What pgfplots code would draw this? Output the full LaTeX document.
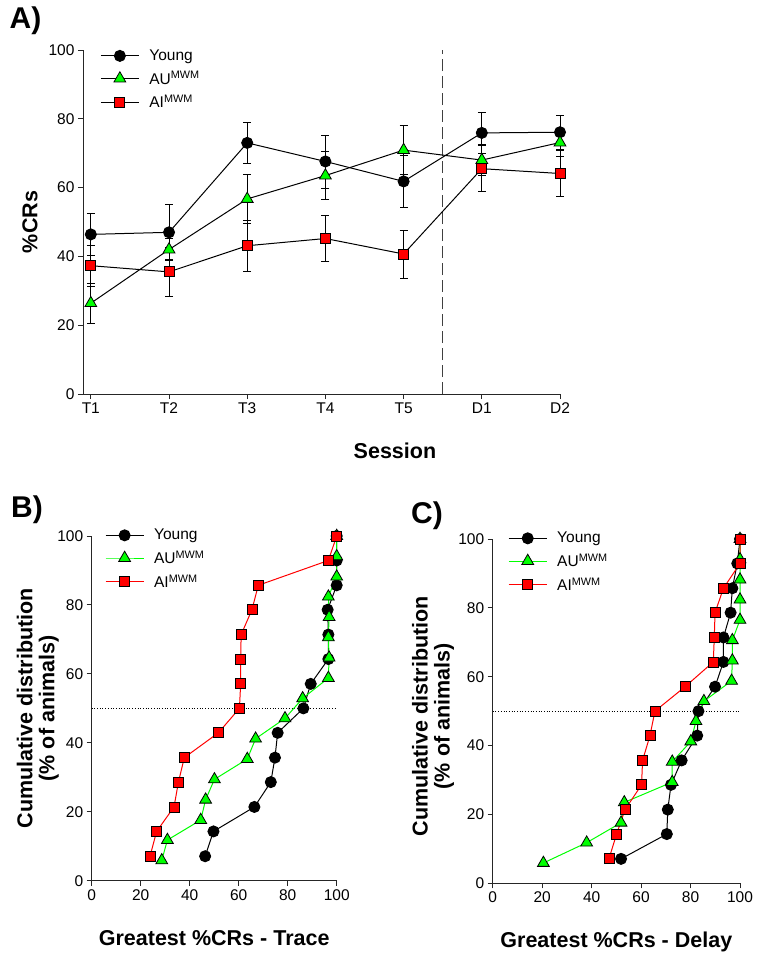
\documentclass[border=0pt]{standalone}
\usepackage{fontspec}
\setmainfont{Liberation Sans}
\usepackage{pgfplots}
\pgfplotsset{compat=1.18}

\definecolor{mygreen}{RGB}{0,255,0}
\definecolor{myred}{RGB}{255,0,0}

\pgfplotsset{
  base/.style={
    scale only axis,
    axis x line=bottom, axis y line=left,
    axis line style={-, line width=0.9pt, black!85},
    tick style={line width=0.9pt, black!85},
    tick align=outside,
    major tick length=5pt,
    /pgf/number format/assume math mode=true,
    tick label style={font=\fontsize{15.5}{18}\selectfont},
    label style={font=\fontsize{21.5}{22}\selectfont\bfseries},
    clip=false,
    legend style={draw=none, fill=none, inner sep=0pt, row sep=5.5pt,
      font=\fontsize{15.5}{18}\selectfont,
      nodes={inner xsep=5pt}},
    legend cell align=left,
    legend image code/.code={\draw[mark repeat=2,mark phase=2,##1] plot coordinates {(0pt,0pt)(19pt,0pt)(38pt,0pt)}; \path (43pt,0pt);},
  },
  young/.style={black, line width=1pt, mark=*, mark size=5.5pt, mark options={solid, fill=black, draw=black}},
  au/.style={line width=1pt, mark=triangle*, mark size=6.8pt, mark options={solid, fill=mygreen, draw=black, line width=0.8pt}},
  ai/.style={line width=1pt, mark=square*, mark size=5pt, mark options={solid, fill=myred, draw=black, line width=0.8pt}},
  eb/.style={error bars/.cd, y dir=both, y explicit,
    error bar style={line width=0.8pt, black},
    error mark options={rotate=90, mark size=4pt, line width=0.8pt, black}},
}

\begin{document}
\begin{tikzpicture}
\path[use as bounding box] (0pt,0pt) rectangle (762pt,-961pt);

% ---------------- Panel A ----------------
\begin{axis}[base,
  at={(83pt,-394pt)}, anchor=south west,
  width=477pt, height=344pt,
  xmin=-0.1, xmax=6, ymin=0, ymax=100,
  xtick={0,1,2,3,4,5,6}, xticklabels={T1,T2,T3,T4,T5,D1,D2},
  ytick={0,20,40,60,80,100},
  xlabel={Session}, ylabel={\%CRs},
  xlabel style={at={(axis description cs:0.654,-0.166)}, anchor=center},
  ylabel style={at={(axis description cs:-0.111,0.5)}, anchor=center},
  legend style={at={(axis description cs:0.036,1.007)}, anchor=north west},
]
\addplot[dash pattern=on 12pt off 5pt, line width=0.9pt, black!75, forget plot] coordinates {(4.5,0) (4.5,100)};
\addplot[young, eb] coordinates {
  (0,46.4) +- (0,6.2)
  (1,47.0) +- (0,8.0)
  (2,73.0) +- (0,5.9)
  (3,67.6) +- (0,7.7)
  (4,61.8) +- (0,7.5)
  (5,75.9) +- (0,5.9)
  (6,76.1) +- (0,4.9)
};
\addlegendentry{Young}
\addplot[au, black, eb] coordinates {
  (0,26.4) +- (0,5.8)
  (1,42.0) +- (0,3.3)
  (2,56.7) +- (0,7.0)
  (3,63.5) +- (0,7.0)
  (4,70.9) +- (0,7.2)
  (5,68.0) +- (0,4.5)
  (6,73.1) +- (0,4.0)
};
\addlegendentry{AU\textsuperscript{MWM}}
\addplot[ai, black, eb] coordinates {
  (0,37.3) +- (0,6.0)
  (1,35.5) +- (0,7.0)
  (2,43.1) +- (0,7.5)
  (3,45.2) +- (0,6.7)
  (4,40.7) +- (0,7.0)
  (5,65.5) +- (0,6.7)
  (6,64.1) +- (0,6.8)
};
\addlegendentry{AI\textsuperscript{MWM}}
\end{axis}

% ---------------- Panel B ----------------
\begin{axis}[base,
  at={(91.7pt,-880.7pt)}, anchor=south west,
  width=245pt, height=344.7pt,
  xmin=0, xmax=100, ymin=0, ymax=100,
  xtick={0,20,40,60,80,100}, ytick={0,20,40,60,80,100},
  xlabel={Greatest \%CRs - Trace},
  ylabel={Cumulative distribution\\(\% of animals)},
  xlabel style={at={(axis description cs:0.5,-0.166)}, anchor=center},
  ylabel style={at={(axis description cs:-0.22,0.5)}, anchor=center, align=center},
  legend style={at={(axis description cs:0.054,1.026)}, anchor=north west},
]
\addplot[dotted, line width=0.7pt, black, forget plot] coordinates {(0,50) (100,50)};
\addplot[young] coordinates {
  (46.3,7.1) (49.7,14.3) (66.4,21.4) (73.1,28.6) (74.8,35.7) (75.9,42.9)
  (86.4,50.0) (89.4,57.1) (96.6,64.3) (96.6,71.4) (96.3,78.6) (100,85.7)
  (100,92.9) (100,100)
};
\addlegendentry{Young}
\addplot[au, mygreen] coordinates {
  (28.6,5.9) (30.9,11.8) (44.5,17.6) (46.5,23.5) (50.1,29.4) (63.5,35.3)
  (66.9,41.2) (78.9,47.1) (86.1,52.9) (96.6,58.8) (96.9,64.7) (96.6,70.6)
  (96.9,76.5) (96.6,82.4) (100,88.2) (100,94.1) (100,100)
};
\addlegendentry{AU\textsuperscript{MWM}}
\addplot[ai, myred] coordinates {
  (23.8,7.1) (26.5,14.3) (33.6,21.4) (35.4,28.6) (37.8,35.7) (51.7,42.9)
  (60.3,50.0) (60.8,57.1) (60.8,64.3) (61.0,71.4) (65.4,78.6) (68.0,85.7)
  (96.6,92.9) (100,100)
};
\addlegendentry{AI\textsuperscript{MWM}}
\end{axis}

% ---------------- Panel C ----------------
\begin{axis}[base,
  at={(492.7pt,-883.3pt)}, anchor=south west,
  width=247.3pt, height=344.3pt,
  xmin=0, xmax=100, ymin=0, ymax=100,
  xtick={0,20,40,60,80,100}, ytick={0,20,40,60,80,100},
  xlabel={Greatest \%CRs - Delay},
  ylabel={Cumulative distribution\\(\% of animals)},
  xlabel style={at={(axis description cs:0.5,-0.170)}, anchor=center},
  ylabel style={at={(axis description cs:-0.241,0.485)}, anchor=center, align=center},
  legend style={at={(axis description cs:0.062,1.026)}, anchor=north west},
]
\addplot[dotted, line width=0.7pt, black, forget plot] coordinates {(0,50) (100,50)};
\addplot[young] coordinates {
  (51.9,7.1) (70.4,14.3) (70.8,21.4) (72.1,28.6) (76.4,35.7) (82.7,42.9)
  (83.2,50.0) (89.9,57.1) (93.3,64.3) (93.3,71.4) (96.2,78.6) (96.9,85.7)
  (98.9,92.9) (100,100)
};
\addlegendentry{Young}
\addplot[au, mygreen] coordinates {
  (20.5,5.9) (38.0,11.8) (51.9,17.6) (53.2,23.5) (72.6,29.4) (72.6,35.3)
  (80.1,41.2) (82.2,47.1) (85.4,52.9) (96.6,58.8) (96.9,64.7) (96.9,70.6)
  (100,76.5) (100,82.4) (100,88.2) (100,94.1) (100,100)
};
\addlegendentry{AU\textsuperscript{MWM}}
\addplot[ai, myred] coordinates {
  (47.0,7.1) (50.1,14.3) (53.5,21.4) (60.2,28.6) (60.6,35.7) (63.6,42.9)
  (65.6,50.0) (77.8,57.1) (89.2,64.3) (89.6,71.4) (89.9,78.6) (93.3,85.7)
  (100,92.9) (100,100)
};
\addlegendentry{AI\textsuperscript{MWM}}
\end{axis}

% panel letters
\node[font=\fontsize{30}{32}\selectfont\bfseries] at (25.5pt,-21pt) {A)};
\node[font=\fontsize{30}{32}\selectfont\bfseries] at (27pt,-510pt) {B)};
\node[font=\fontsize{30}{32}\selectfont\bfseries] at (427pt,-515.5pt) {C)};
\end{tikzpicture}
\end{document}
